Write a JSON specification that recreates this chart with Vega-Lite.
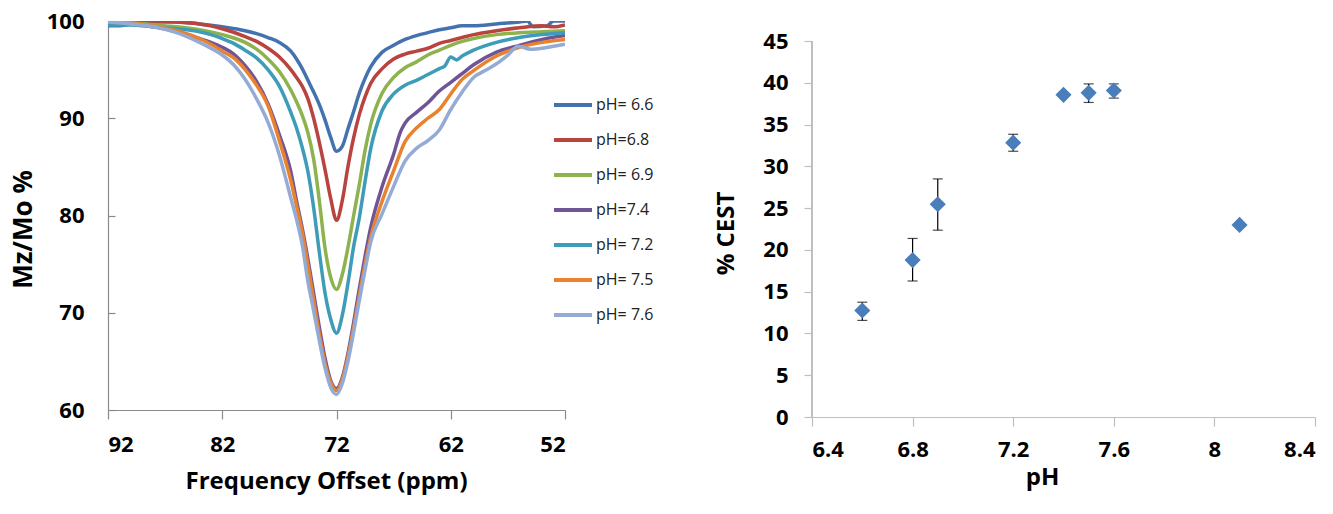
{
  "$schema": "https://vega.github.io/schema/vega-lite/v6.json",
  "background": "white",
  "padding": {"left": 10, "top": 10, "right": 5, "bottom": 8},
  "spacing": 148,
  "config": {
    "view": {"stroke": null},
    "font": "Open Sans",
    "axis": {
      "grid": false,
      "labelFont": "Open Sans",
      "labelFontWeight": "bold",
      "labelFontSize": 22,
      "labelColor": "#000000",
      "titleFont": "Open Sans",
      "titleFontWeight": "bold",
      "titleFontSize": 24,
      "titleColor": "#000000",
      "domainColor": "#8a8a8a",
      "tickColor": "#8a8a8a",
      "domainWidth": 1.2,
      "tickWidth": 1.2
    }
  },
  "datasets": {
    "curves": [
      {"series": "pH= 6.6", "ppm": 92, "mz": 99.5}, {"series": "pH= 6.6", "ppm": 91, "mz": 99.5}, {"series": "pH= 6.6", "ppm": 90, "mz": 99.7}, {"series": "pH= 6.6", "ppm": 88, "mz": 99.9}, {"series": "pH= 6.6", "ppm": 86, "mz": 99.9}, {"series": "pH= 6.6", "ppm": 84, "mz": 99.7}, {"series": "pH= 6.6", "ppm": 82, "mz": 99.4}, {"series": "pH= 6.6", "ppm": 80, "mz": 99.0}, {"series": "pH= 6.6", "ppm": 79, "mz": 98.7}, {"series": "pH= 6.6", "ppm": 78, "mz": 98.3}, {"series": "pH= 6.6", "ppm": 77, "mz": 97.8}, {"series": "pH= 6.6", "ppm": 76, "mz": 96.9}, {"series": "pH= 6.6", "ppm": 75.5, "mz": 96.1}, {"series": "pH= 6.6", "ppm": 75, "mz": 95.1}, {"series": "pH= 6.6", "ppm": 74.5, "mz": 93.9}, {"series": "pH= 6.6", "ppm": 74, "mz": 92.7}, {"series": "pH= 6.6", "ppm": 73.5, "mz": 91.4}, {"series": "pH= 6.6", "ppm": 73, "mz": 89.8}, {"series": "pH= 6.6", "ppm": 72.5, "mz": 88.0}, {"series": "pH= 6.6", "ppm": 72, "mz": 86.6}, {"series": "pH= 6.6", "ppm": 71.5, "mz": 87.1}, {"series": "pH= 6.6", "ppm": 71, "mz": 88.9}, {"series": "pH= 6.6", "ppm": 70.5, "mz": 90.7}, {"series": "pH= 6.6", "ppm": 70, "mz": 92.6}, {"series": "pH= 6.6", "ppm": 69.5, "mz": 94.1}, {"series": "pH= 6.6", "ppm": 69, "mz": 95.3}, {"series": "pH= 6.6", "ppm": 68, "mz": 96.8}, {"series": "pH= 6.6", "ppm": 67, "mz": 97.5}, {"series": "pH= 6.6", "ppm": 66, "mz": 98.1}, {"series": "pH= 6.6", "ppm": 65, "mz": 98.5}, {"series": "pH= 6.6", "ppm": 64, "mz": 98.8}, {"series": "pH= 6.6", "ppm": 63, "mz": 99.1}, {"series": "pH= 6.6", "ppm": 62, "mz": 99.3}, {"series": "pH= 6.6", "ppm": 61, "mz": 99.5}, {"series": "pH= 6.6", "ppm": 60, "mz": 99.5}, {"series": "pH= 6.6", "ppm": 58, "mz": 99.7}, {"series": "pH= 6.6", "ppm": 56, "mz": 99.9}, {"series": "pH= 6.6", "ppm": 55.3, "mz": 100}, {"series": "pH= 6.6", "ppm": 54.8, "mz": 99.4}, {"series": "pH= 6.6", "ppm": 53.6, "mz": 99.5}, {"series": "pH= 6.6", "ppm": 53, "mz": 100}, {"series": "pH= 6.6", "ppm": 52, "mz": 100},

      {"series": "pH=6.8", "ppm": 92, "mz": 99.9}, {"series": "pH=6.8", "ppm": 90, "mz": 100}, {"series": "pH=6.8", "ppm": 88, "mz": 100}, {"series": "pH=6.8", "ppm": 86, "mz": 99.9}, {"series": "pH=6.8", "ppm": 84, "mz": 99.7}, {"series": "pH=6.8", "ppm": 83, "mz": 99.5}, {"series": "pH=6.8", "ppm": 82, "mz": 99.2}, {"series": "pH=6.8", "ppm": 80, "mz": 98.4}, {"series": "pH=6.8", "ppm": 79, "mz": 97.9}, {"series": "pH=6.8", "ppm": 78, "mz": 97.2}, {"series": "pH=6.8", "ppm": 77, "mz": 96.3}, {"series": "pH=6.8", "ppm": 76, "mz": 95.0}, {"series": "pH=6.8", "ppm": 75.5, "mz": 94.2}, {"series": "pH=6.8", "ppm": 75, "mz": 93.3}, {"series": "pH=6.8", "ppm": 74.5, "mz": 92.0}, {"series": "pH=6.8", "ppm": 74, "mz": 90.0}, {"series": "pH=6.8", "ppm": 73.5, "mz": 87.5}, {"series": "pH=6.8", "ppm": 73, "mz": 84.7}, {"series": "pH=6.8", "ppm": 72.5, "mz": 81.7}, {"series": "pH=6.8", "ppm": 72, "mz": 79.5}, {"series": "pH=6.8", "ppm": 71.5, "mz": 81.5}, {"series": "pH=6.8", "ppm": 71, "mz": 85.0}, {"series": "pH=6.8", "ppm": 70.5, "mz": 88.0}, {"series": "pH=6.8", "ppm": 70, "mz": 90.4}, {"series": "pH=6.8", "ppm": 69.5, "mz": 92.2}, {"series": "pH=6.8", "ppm": 69, "mz": 93.6}, {"series": "pH=6.8", "ppm": 68, "mz": 95.1}, {"series": "pH=6.8", "ppm": 67, "mz": 96.1}, {"series": "pH=6.8", "ppm": 66, "mz": 96.6}, {"series": "pH=6.8", "ppm": 65, "mz": 96.9}, {"series": "pH=6.8", "ppm": 64, "mz": 97.2}, {"series": "pH=6.8", "ppm": 63, "mz": 97.7}, {"series": "pH=6.8", "ppm": 62, "mz": 98.0}, {"series": "pH=6.8", "ppm": 61, "mz": 98.3}, {"series": "pH=6.8", "ppm": 60, "mz": 98.6}, {"series": "pH=6.8", "ppm": 58, "mz": 99.0}, {"series": "pH=6.8", "ppm": 56, "mz": 99.3}, {"series": "pH=6.8", "ppm": 54, "mz": 99.5}, {"series": "pH=6.8", "ppm": 53, "mz": 99.4}, {"series": "pH=6.8", "ppm": 52, "mz": 99.6},

      {"series": "pH= 6.9", "ppm": 92, "mz": 99.8}, {"series": "pH= 6.9", "ppm": 90, "mz": 99.8}, {"series": "pH= 6.9", "ppm": 88, "mz": 99.6}, {"series": "pH= 6.9", "ppm": 86, "mz": 99.4}, {"series": "pH= 6.9", "ppm": 84, "mz": 99.1}, {"series": "pH= 6.9", "ppm": 82, "mz": 98.6}, {"series": "pH= 6.9", "ppm": 80, "mz": 97.8}, {"series": "pH= 6.9", "ppm": 79, "mz": 97.1}, {"series": "pH= 6.9", "ppm": 78, "mz": 96.1}, {"series": "pH= 6.9", "ppm": 77, "mz": 94.8}, {"series": "pH= 6.9", "ppm": 76, "mz": 92.9}, {"series": "pH= 6.9", "ppm": 75.5, "mz": 91.7}, {"series": "pH= 6.9", "ppm": 75, "mz": 90.3}, {"series": "pH= 6.9", "ppm": 74.5, "mz": 88.5}, {"series": "pH= 6.9", "ppm": 74, "mz": 85.8}, {"series": "pH= 6.9", "ppm": 73.5, "mz": 81.5}, {"series": "pH= 6.9", "ppm": 73, "mz": 76.6}, {"series": "pH= 6.9", "ppm": 72.5, "mz": 73.6}, {"series": "pH= 6.9", "ppm": 72, "mz": 72.4}, {"series": "pH= 6.9", "ppm": 71.5, "mz": 73.9}, {"series": "pH= 6.9", "ppm": 71, "mz": 76.7}, {"series": "pH= 6.9", "ppm": 70.5, "mz": 80.0}, {"series": "pH= 6.9", "ppm": 70, "mz": 83.2}, {"series": "pH= 6.9", "ppm": 69.5, "mz": 86.7}, {"series": "pH= 6.9", "ppm": 69, "mz": 89.4}, {"series": "pH= 6.9", "ppm": 68, "mz": 92.6}, {"series": "pH= 6.9", "ppm": 67, "mz": 94.2}, {"series": "pH= 6.9", "ppm": 66, "mz": 95.2}, {"series": "pH= 6.9", "ppm": 65, "mz": 95.8}, {"series": "pH= 6.9", "ppm": 64, "mz": 96.5}, {"series": "pH= 6.9", "ppm": 63, "mz": 97.0}, {"series": "pH= 6.9", "ppm": 62, "mz": 97.5}, {"series": "pH= 6.9", "ppm": 61, "mz": 97.9}, {"series": "pH= 6.9", "ppm": 60, "mz": 98.2}, {"series": "pH= 6.9", "ppm": 58, "mz": 98.6}, {"series": "pH= 6.9", "ppm": 56, "mz": 98.8}, {"series": "pH= 6.9", "ppm": 54, "mz": 98.9}, {"series": "pH= 6.9", "ppm": 52, "mz": 99.0},

      {"series": "pH=7.4", "ppm": 92, "mz": 99.7}, {"series": "pH=7.4", "ppm": 90, "mz": 99.7}, {"series": "pH=7.4", "ppm": 88, "mz": 99.4}, {"series": "pH=7.4", "ppm": 86, "mz": 98.9}, {"series": "pH=7.4", "ppm": 84, "mz": 98.2}, {"series": "pH=7.4", "ppm": 83, "mz": 97.8}, {"series": "pH=7.4", "ppm": 82, "mz": 97.3}, {"series": "pH=7.4", "ppm": 81, "mz": 96.6}, {"series": "pH=7.4", "ppm": 80, "mz": 95.4}, {"series": "pH=7.4", "ppm": 79, "mz": 93.8}, {"series": "pH=7.4", "ppm": 78, "mz": 91.5}, {"series": "pH=7.4", "ppm": 77, "mz": 88.3}, {"series": "pH=7.4", "ppm": 76, "mz": 84.5}, {"series": "pH=7.4", "ppm": 75.5, "mz": 81.5}, {"series": "pH=7.4", "ppm": 75, "mz": 78.7}, {"series": "pH=7.4", "ppm": 74.5, "mz": 75.5}, {"series": "pH=7.4", "ppm": 74, "mz": 72.0}, {"series": "pH=7.4", "ppm": 73.5, "mz": 68.5}, {"series": "pH=7.4", "ppm": 73, "mz": 65.3}, {"series": "pH=7.4", "ppm": 72.5, "mz": 63.0}, {"series": "pH=7.4", "ppm": 72, "mz": 62.2}, {"series": "pH=7.4", "ppm": 71.5, "mz": 63.3}, {"series": "pH=7.4", "ppm": 71, "mz": 65.8}, {"series": "pH=7.4", "ppm": 70.5, "mz": 69.0}, {"series": "pH=7.4", "ppm": 70, "mz": 72.5}, {"series": "pH=7.4", "ppm": 69.5, "mz": 75.8}, {"series": "pH=7.4", "ppm": 69, "mz": 78.8}, {"series": "pH=7.4", "ppm": 68, "mz": 83.0}, {"series": "pH=7.4", "ppm": 67, "mz": 86.3}, {"series": "pH=7.4", "ppm": 66.4, "mz": 88.6}, {"series": "pH=7.4", "ppm": 66, "mz": 89.5}, {"series": "pH=7.4", "ppm": 65, "mz": 90.6}, {"series": "pH=7.4", "ppm": 64, "mz": 91.6}, {"series": "pH=7.4", "ppm": 63, "mz": 92.8}, {"series": "pH=7.4", "ppm": 62, "mz": 93.7}, {"series": "pH=7.4", "ppm": 61, "mz": 94.6}, {"series": "pH=7.4", "ppm": 60, "mz": 95.5}, {"series": "pH=7.4", "ppm": 58, "mz": 96.8}, {"series": "pH=7.4", "ppm": 56, "mz": 97.5}, {"series": "pH=7.4", "ppm": 54, "mz": 98.1}, {"series": "pH=7.4", "ppm": 52, "mz": 98.5},

      {"series": "pH= 7.2", "ppm": 92, "mz": 99.6}, {"series": "pH= 7.2", "ppm": 90, "mz": 99.6}, {"series": "pH= 7.2", "ppm": 88, "mz": 99.4}, {"series": "pH= 7.2", "ppm": 86, "mz": 99.2}, {"series": "pH= 7.2", "ppm": 84, "mz": 98.9}, {"series": "pH= 7.2", "ppm": 83, "mz": 98.6}, {"series": "pH= 7.2", "ppm": 82, "mz": 98.2}, {"series": "pH= 7.2", "ppm": 81, "mz": 97.7}, {"series": "pH= 7.2", "ppm": 80, "mz": 97.0}, {"series": "pH= 7.2", "ppm": 79, "mz": 96.2}, {"series": "pH= 7.2", "ppm": 78, "mz": 95.0}, {"series": "pH= 7.2", "ppm": 77, "mz": 93.3}, {"series": "pH= 7.2", "ppm": 76, "mz": 90.6}, {"series": "pH= 7.2", "ppm": 75.5, "mz": 89.0}, {"series": "pH= 7.2", "ppm": 75, "mz": 87.0}, {"series": "pH= 7.2", "ppm": 74.5, "mz": 84.5}, {"series": "pH= 7.2", "ppm": 74, "mz": 80.8}, {"series": "pH= 7.2", "ppm": 73.5, "mz": 76.2}, {"series": "pH= 7.2", "ppm": 73, "mz": 72.0}, {"series": "pH= 7.2", "ppm": 72.5, "mz": 69.3}, {"series": "pH= 7.2", "ppm": 72, "mz": 67.9}, {"series": "pH= 7.2", "ppm": 71.5, "mz": 69.7}, {"series": "pH= 7.2", "ppm": 71, "mz": 73.0}, {"series": "pH= 7.2", "ppm": 70.5, "mz": 76.8}, {"series": "pH= 7.2", "ppm": 70, "mz": 79.8}, {"series": "pH= 7.2", "ppm": 69.5, "mz": 83.5}, {"series": "pH= 7.2", "ppm": 69, "mz": 86.9}, {"series": "pH= 7.2", "ppm": 68, "mz": 90.8}, {"series": "pH= 7.2", "ppm": 67, "mz": 92.5}, {"series": "pH= 7.2", "ppm": 66, "mz": 93.4}, {"series": "pH= 7.2", "ppm": 65, "mz": 93.9}, {"series": "pH= 7.2", "ppm": 64, "mz": 94.5}, {"series": "pH= 7.2", "ppm": 63, "mz": 95.1}, {"series": "pH= 7.2", "ppm": 62.5, "mz": 95.4}, {"series": "pH= 7.2", "ppm": 62, "mz": 96.3}, {"series": "pH= 7.2", "ppm": 61.5, "mz": 96.0}, {"series": "pH= 7.2", "ppm": 61, "mz": 96.4}, {"series": "pH= 7.2", "ppm": 60, "mz": 97.0}, {"series": "pH= 7.2", "ppm": 58, "mz": 97.8}, {"series": "pH= 7.2", "ppm": 56, "mz": 98.3}, {"series": "pH= 7.2", "ppm": 54, "mz": 98.6}, {"series": "pH= 7.2", "ppm": 52, "mz": 98.8},

      {"series": "pH= 7.5", "ppm": 92, "mz": 99.9}, {"series": "pH= 7.5", "ppm": 90, "mz": 99.8}, {"series": "pH= 7.5", "ppm": 88, "mz": 99.5}, {"series": "pH= 7.5", "ppm": 86, "mz": 99.0}, {"series": "pH= 7.5", "ppm": 84, "mz": 98.2}, {"series": "pH= 7.5", "ppm": 83, "mz": 97.6}, {"series": "pH= 7.5", "ppm": 82, "mz": 96.9}, {"series": "pH= 7.5", "ppm": 81, "mz": 96.2}, {"series": "pH= 7.5", "ppm": 80, "mz": 95.0}, {"series": "pH= 7.5", "ppm": 79, "mz": 93.4}, {"series": "pH= 7.5", "ppm": 78, "mz": 91.3}, {"series": "pH= 7.5", "ppm": 77, "mz": 87.7}, {"series": "pH= 7.5", "ppm": 76, "mz": 83.6}, {"series": "pH= 7.5", "ppm": 75.5, "mz": 81.0}, {"series": "pH= 7.5", "ppm": 75, "mz": 78.3}, {"series": "pH= 7.5", "ppm": 74.5, "mz": 74.9}, {"series": "pH= 7.5", "ppm": 74, "mz": 71.3}, {"series": "pH= 7.5", "ppm": 73.5, "mz": 67.8}, {"series": "pH= 7.5", "ppm": 73, "mz": 64.8}, {"series": "pH= 7.5", "ppm": 72.5, "mz": 62.8}, {"series": "pH= 7.5", "ppm": 72, "mz": 62.0}, {"series": "pH= 7.5", "ppm": 71.5, "mz": 63.1}, {"series": "pH= 7.5", "ppm": 71, "mz": 65.5}, {"series": "pH= 7.5", "ppm": 70.5, "mz": 68.5}, {"series": "pH= 7.5", "ppm": 70, "mz": 71.8}, {"series": "pH= 7.5", "ppm": 69.5, "mz": 75.0}, {"series": "pH= 7.5", "ppm": 69, "mz": 77.8}, {"series": "pH= 7.5", "ppm": 68, "mz": 81.5}, {"series": "pH= 7.5", "ppm": 67, "mz": 84.6}, {"series": "pH= 7.5", "ppm": 66, "mz": 87.6}, {"series": "pH= 7.5", "ppm": 65, "mz": 89.0}, {"series": "pH= 7.5", "ppm": 64, "mz": 90.0}, {"series": "pH= 7.5", "ppm": 63, "mz": 90.9}, {"series": "pH= 7.5", "ppm": 62, "mz": 92.5}, {"series": "pH= 7.5", "ppm": 61, "mz": 94.0}, {"series": "pH= 7.5", "ppm": 60, "mz": 94.9}, {"series": "pH= 7.5", "ppm": 58, "mz": 96.4}, {"series": "pH= 7.5", "ppm": 56, "mz": 97.3}, {"series": "pH= 7.5", "ppm": 54, "mz": 97.8}, {"series": "pH= 7.5", "ppm": 52, "mz": 98.1},

      {"series": "pH= 7.6", "ppm": 92, "mz": 99.9}, {"series": "pH= 7.6", "ppm": 90, "mz": 99.7}, {"series": "pH= 7.6", "ppm": 88, "mz": 99.4}, {"series": "pH= 7.6", "ppm": 86, "mz": 98.8}, {"series": "pH= 7.6", "ppm": 84, "mz": 97.8}, {"series": "pH= 7.6", "ppm": 83, "mz": 97.2}, {"series": "pH= 7.6", "ppm": 82, "mz": 96.5}, {"series": "pH= 7.6", "ppm": 81, "mz": 95.5}, {"series": "pH= 7.6", "ppm": 80, "mz": 94.0}, {"series": "pH= 7.6", "ppm": 79, "mz": 92.0}, {"series": "pH= 7.6", "ppm": 78, "mz": 89.6}, {"series": "pH= 7.6", "ppm": 77, "mz": 86.2}, {"series": "pH= 7.6", "ppm": 76, "mz": 81.8}, {"series": "pH= 7.6", "ppm": 75.5, "mz": 79.6}, {"series": "pH= 7.6", "ppm": 75, "mz": 77.0}, {"series": "pH= 7.6", "ppm": 74.5, "mz": 73.2}, {"series": "pH= 7.6", "ppm": 74, "mz": 70.2}, {"series": "pH= 7.6", "ppm": 73.5, "mz": 67.1}, {"series": "pH= 7.6", "ppm": 73, "mz": 64.3}, {"series": "pH= 7.6", "ppm": 72.5, "mz": 62.3}, {"series": "pH= 7.6", "ppm": 72, "mz": 61.6}, {"series": "pH= 7.6", "ppm": 71.5, "mz": 62.7}, {"series": "pH= 7.6", "ppm": 71, "mz": 65.0}, {"series": "pH= 7.6", "ppm": 70.5, "mz": 68.0}, {"series": "pH= 7.6", "ppm": 70, "mz": 71.3}, {"series": "pH= 7.6", "ppm": 69.5, "mz": 74.4}, {"series": "pH= 7.6", "ppm": 69, "mz": 77.3}, {"series": "pH= 7.6", "ppm": 68, "mz": 80.2}, {"series": "pH= 7.6", "ppm": 67, "mz": 83.0}, {"series": "pH= 7.6", "ppm": 66, "mz": 85.6}, {"series": "pH= 7.6", "ppm": 65, "mz": 86.9}, {"series": "pH= 7.6", "ppm": 64, "mz": 87.7}, {"series": "pH= 7.6", "ppm": 63, "mz": 88.8}, {"series": "pH= 7.6", "ppm": 62, "mz": 90.9}, {"series": "pH= 7.6", "ppm": 61, "mz": 92.7}, {"series": "pH= 7.6", "ppm": 60, "mz": 94.2}, {"series": "pH= 7.6", "ppm": 59, "mz": 94.9}, {"series": "pH= 7.6", "ppm": 58, "mz": 95.6}, {"series": "pH= 7.6", "ppm": 57, "mz": 96.5}, {"series": "pH= 7.6", "ppm": 56.1, "mz": 97.4}, {"series": "pH= 7.6", "ppm": 55, "mz": 97.1}, {"series": "pH= 7.6", "ppm": 54, "mz": 97.2}, {"series": "pH= 7.6", "ppm": 53, "mz": 97.4}, {"series": "pH= 7.6", "ppm": 52, "mz": 97.6}
    ],
    "cest": [
      {"pH": 6.6, "cest": 12.75, "lo": 11.56, "hi": 13.74},
      {"pH": 6.8, "cest": 18.78, "lo": 16.28, "hi": 21.37},
      {"pH": 6.9, "cest": 25.46, "lo": 22.36, "hi": 28.5},
      {"pH": 7.2, "cest": 32.84, "lo": 31.81, "hi": 33.84},
      {"pH": 7.4, "cest": 38.56, "lo": null, "hi": null},
      {"pH": 7.5, "cest": 38.8, "lo": 37.65, "hi": 39.87},
      {"pH": 7.6, "cest": 39.08, "lo": 38.17, "hi": 39.87},
      {"pH": 8.1, "cest": 22.99, "lo": null, "hi": null}
    ]
  },
  "hconcat": [
    {
      "width": 457,
      "height": 389,
      "data": {"name": "curves"},
      "mark": {"type": "line", "interpolate": "monotone", "strokeWidth": 3.5, "clip": true},
      "encoding": {
        "x": {
          "field": "ppm", "type": "quantitative",
          "scale": {"domain": [52, 92], "reverse": true, "nice": false, "zero": false},
          "axis": {"values": [92, 82, 72, 62, 52], "title": "Frequency Offset (ppm)", "tickSize": 9, "labelPadding": 15, "titlePadding": 14, "titleX": 218}
        },
        "y": {
          "field": "mz", "type": "quantitative",
          "scale": {"domain": [60, 100], "nice": false, "zero": false},
          "axis": {"values": [60, 70, 80, 90, 100], "title": "Mz/Mo %", "titleFontSize": 26, "tickSize": -7, "labelPadding": 31, "titlePadding": 10, "titleY": 208}
        },
        "color": {
          "field": "series", "type": "nominal",
          "scale": {
            "domain": ["pH= 6.6", "pH=6.8", "pH= 6.9", "pH=7.4", "pH= 7.2", "pH= 7.5", "pH= 7.6"],
            "range": ["#4472AE", "#B8433F", "#8DB24E", "#6F5597", "#3E9CB8", "#E8822F", "#94ABD5"]
          },
          "legend": {
            "orient": "none", "legendX": 444, "legendY": 63, "title": null,
            "symbolType": "stroke", "symbolSize": 1444, "symbolStrokeWidth": 4,
            "labelFont": "Open Sans", "labelFontSize": 16, "labelFontWeight": "normal", "labelColor": "#222222",
            "labelOffset": 2, "rowPadding": 6
          }
        }
      }
    },
    {
      "width": 503,
      "height": 396,
      "data": {"name": "cest"},
      "layer": [
        {
          "mark": {"type": "rule", "color": "#bfbfbf", "strokeWidth": 1.2},
          "encoding": {
            "x": {"datum": 6.4, "type": "quantitative"},
            "y": {"datum": 0, "type": "quantitative"},
            "y2": {"datum": 45}
          }
        },
        {
          "transform": [{"filter": "datum.lo != null"}],
          "mark": {"type": "errorbar", "ticks": {"size": 10, "color": "#000000", "thickness": 1.2}, "rule": {"color": "#000000", "strokeWidth": 1.2}},
          "encoding": {
            "x": {"field": "pH", "type": "quantitative"},
            "y": {"field": "lo", "type": "quantitative", "title": "% CEST"},
            "y2": {"field": "hi"}
          }
        },
        {
          "mark": {"type": "point", "shape": "diamond", "filled": true, "size": 260, "color": "#4A7EBB", "opacity": 1},
          "encoding": {
            "x": {
              "field": "pH", "type": "quantitative",
              "scale": {"domain": [6.4, 8.4], "nice": false, "zero": false},
              "axis": {"values": [6.4, 6.8, 7.2, 7.6, 8, 8.4], "format": "~g", "title": "pH", "tickSize": 9, "labelPadding": 13, "titlePadding": 5, "titleX": 230, "domainColor": "#bfbfbf", "tickColor": "#bfbfbf"}
            },
            "y": {
              "field": "cest", "type": "quantitative",
              "scale": {"domain": [0, 47.4], "nice": false, "zero": true},
              "axis": {"values": [0, 5, 10, 15, 20, 25, 30, 35, 40, 45], "title": "% CEST", "domain": false, "tickSize": 8, "labelPadding": 16, "titlePadding": 24, "titleY": 212, "tickColor": "#bfbfbf"}
            }
          }
        }
      ]
    }
  ]
}
